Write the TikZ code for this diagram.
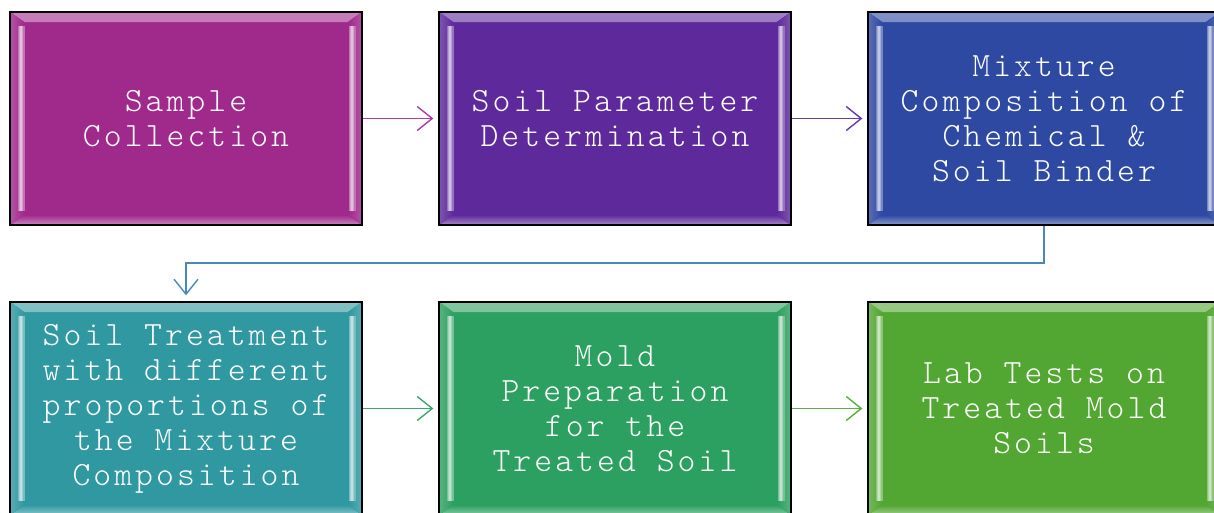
\documentclass[tikz,border=0pt]{standalone}
\usepackage{fontspec}
\newfontfamily\boxfont{lmmonolt10-regular.otf}[LetterSpace=9]
\usetikzlibrary{arrows.meta,calc}

\definecolor{fillA}{RGB}{160,41,140}
\definecolor{fillB}{RGB}{94,42,155}
\definecolor{fillC}{RGB}{46,73,162}
\definecolor{fillD}{RGB}{47,152,160}
\definecolor{fillE}{RGB}{44,160,96}
\definecolor{fillF}{RGB}{82,166,50}
\definecolor{arrA}{RGB}{172,60,165}
\definecolor{arrB}{RGB}{100,60,170}
\definecolor{arrC}{RGB}{74,135,190}
\definecolor{arrD}{RGB}{58,168,112}
\definecolor{arrE}{RGB}{90,176,64}

\tikzset{
  box/.style={draw=black, line width=1.3pt, minimum width=352pt, minimum height=213pt,
    inner sep=0pt, text=white, align=center,
    font=\boxfont\fontsize{34}{35}\selectfont},
  % bevelled face: light bands along the edges, soft bright stripes at the sides
  bev/.style={fill=#1, path picture={
    \fill[top color=#1!60!white, bottom color=#1]
      (path picture bounding box.north west) -- (path picture bounding box.north east)
      -- ($(path picture bounding box.north east)+(-14pt,-10pt)$)
      -- ($(path picture bounding box.north west)+(14pt,-10pt)$) -- cycle;
    \fill[top color=#1, bottom color=#1!55!white]
      (path picture bounding box.south west) -- (path picture bounding box.south east)
      -- ($(path picture bounding box.south east)+(-14pt,10pt)$)
      -- ($(path picture bounding box.south west)+(14pt,10pt)$) -- cycle;
    \fill[left color=#1!80!white, right color=#1]
      (path picture bounding box.north west)
      -- ($(path picture bounding box.north west)+(14pt,-10pt)$)
      -- ($(path picture bounding box.south west)+(14pt,10pt)$)
      -- (path picture bounding box.south west) -- cycle;
    \fill[right color=#1!80!white, left color=#1]
      (path picture bounding box.north east)
      -- ($(path picture bounding box.north east)+(-14pt,-10pt)$)
      -- ($(path picture bounding box.south east)+(-14pt,10pt)$)
      -- (path picture bounding box.south east) -- cycle;
    \foreach \w/\c in {7pt/65, 4.5pt/45, 2pt/30} {
      \draw[#1!\c!white, line width=\w]
        ($(path picture bounding box.north west)+(11pt,-14pt)$)
        -- ($(path picture bounding box.south west)+(11pt,14pt)$);
      \draw[#1!\c!white, line width=\w]
        ($(path picture bounding box.north east)+(-10pt,-14pt)$)
        -- ($(path picture bounding box.south east)+(-10pt,14pt)$);
    }
  }},
  arr/.style={draw=#1, line width=1.4pt,
    -{Straight Barb[length=15pt,width=24pt]}, shorten >=5pt},
}

\begin{document}
\begin{tikzpicture}[x=1pt,y=-1pt]
\useasboundingbox[fill=white] (0,0) rectangle (1214,512);

% first row
\node[box, bev=fillA] (b1) at (186,118.5) {Sample\\Collection};
\node[box, bev=fillB] (b2) at (615,118.5) {Soil Parameter\\Determination};
\node[box, bev=fillC] (b3) at (1044,118.5) {Mixture\\Composition of\\Chemical \&\\Soil Binder};

% second row
\node[box, bev=fillD] (b4) at (186,408.5) {Soil Treatment\\with different\\proportions of\\the Mixture\\Composition};
\node[box, bev=fillE] (b5) at (615,408.5) {Mold\\Preparation\\for the\\Treated Soil};
\node[box, bev=fillF] (b6) at (1044,408.5) {Lab Tests on\\Treated Mold\\Soils};

% connectors
\draw[arr=arrA] (b1) -- (b2);
\draw[arr=arrB] (b2) -- (b3);
\coordinate (k1) at (1044,263);
\coordinate (k2) at (186,263);
\draw[arr=arrC, shorten >=6pt] (b3.south) -- (k1) -- (k2) -- (b4.north);
\draw[arr=arrD] (b4) -- (b5);
\draw[arr=arrE] (b5) -- (b6);
\end{tikzpicture}
\end{document}
